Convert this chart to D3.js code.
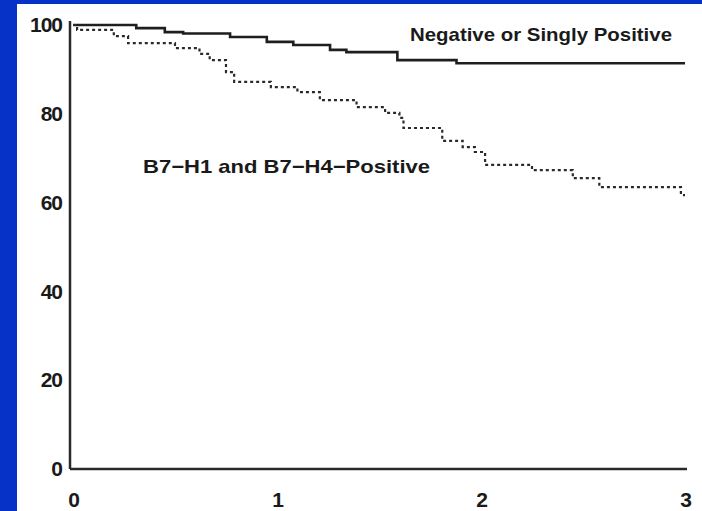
<!DOCTYPE html>
<html>
<head>
<meta charset="utf-8">
<script src="https://cdn.jsdelivr.net/npm/d3@7"></script>
<style>
  body { margin: 0; background: #0632c8; }
  svg { display: block; }
  text { font-family: "Liberation Sans", Arial, sans-serif; fill: #1a1a1a; }
</style>
</head>
<body>
<div id="chart"></div>
<script>
var svgWidth = 702;
var svgHeight = 511;

// time in years, percent surviving
var negTime = [0, 0.31, 0.45, 0.54, 0.77, 0.95, 1.08, 1.26, 1.34, 1.59, 1.88, 3.0];
var negSurv = [100, 99.3, 98.4, 98.1, 97.3, 96.2, 95.5, 94.4, 93.9, 92.1, 91.4, 91.4];

var posTime = [0, 0.02, 0.20, 0.27, 0.50, 0.62, 0.67, 0.75, 0.79, 0.97, 1.10, 1.21, 1.39, 1.53, 1.60, 1.62, 1.81, 1.91, 1.97, 2.02, 2.25, 2.45, 2.58, 2.98, 3.0];
var posSurv = [100, 98.9, 97.5, 95.9, 94.8, 93.5, 92.1, 89.4, 87.2, 86.0, 84.9, 83.1, 81.5, 80.2, 79.1, 76.8, 73.9, 72.5, 71.4, 68.5, 67.3, 65.5, 63.5, 61.7, 61.7];

var xTicks = [0, 1, 2, 3];
var yTicks = [0, 20, 40, 60, 80, 100];

var svg = d3.select("#chart").append("svg")
  .attr("width", svgWidth)
  .attr("height", svgHeight);

// white panel over the blue slide background
svg.append("rect")
  .attr("x", 17).attr("y", 4)
  .attr("width", svgWidth - 17).attr("height", svgHeight - 4)
  .attr("fill", "#ffffff");

var xScale = d3.scaleLinear().domain([0, 3]).range([73, 685]);
var yScale = d3.scaleLinear().domain([0, 100]).range([469, 25]);

// axes
var xAxis = d3.axisBottom(xScale).tickValues(xTicks).tickSize(0).tickPadding(23).tickFormat(d3.format("d"));
var yAxis = d3.axisLeft(yScale).tickValues(yTicks).tickSize(0).tickPadding(8).tickFormat(d3.format("d"));

var gx = svg.append("g")
  .attr("transform", "translate(0,469)")
  .call(xAxis);
gx.select(".domain").attr("d", "M70,0H687").attr("stroke", "#2a2a2a").attr("stroke-width", 2.5);

var gy = svg.append("g")
  .attr("transform", "translate(70,0)")
  .call(yAxis);
gy.select(".domain").attr("d", "M0,469V21").attr("stroke", "#2a2a2a").attr("stroke-width", 2.5);

svg.selectAll(".tick text")
  .attr("fill", "#1a1a1a")
  .style("font-size", "21px")
  .style("font-weight", "bold")
  .style("letter-spacing", "-1px")
  .style("font-family", "'Liberation Sans', Arial, sans-serif");

var stepLine = d3.line()
  .x(function(d) { return xScale(d[0]); })
  .y(function(d) { return yScale(d[1]); })
  .curve(d3.curveStepAfter);

svg.append("path")
  .datum(d3.zip(negTime, negSurv))
  .attr("d", stepLine)
  .attr("fill", "none")
  .attr("stroke", "#1e1e1e")
  .attr("stroke-width", 2.6);

svg.append("path")
  .datum(d3.zip(posTime, posSurv))
  .attr("d", stepLine)
  .attr("fill", "none")
  .attr("stroke", "#2a2a2a")
  .attr("stroke-width", 2.2)
  .attr("stroke-dasharray", "3,3");

// curve labels
svg.append("text")
  .attr("x", 410).attr("y", 41)
  .attr("textLength", 262)
  .attr("lengthAdjust", "spacingAndGlyphs")
  .style("font-size", "19px")
  .style("font-weight", "bold")
  .text("Negative or Singly Positive");

svg.append("text")
  .attr("x", 143).attr("y", 173)
  .attr("textLength", 287)
  .attr("lengthAdjust", "spacingAndGlyphs")
  .style("font-size", "19px")
  .style("font-weight", "bold")
  .text("B7\u2212H1 and B7\u2212H4\u2212Positive");
</script>
</body>
</html>
